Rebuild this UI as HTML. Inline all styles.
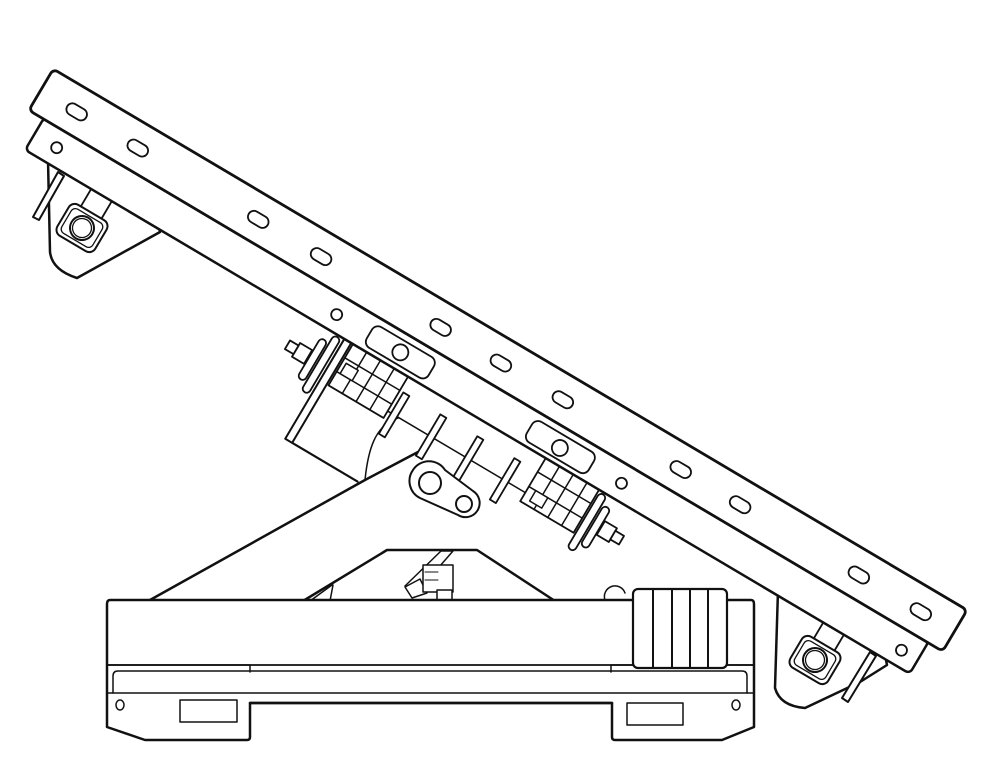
<!DOCTYPE html>
<html><head><meta charset="utf-8"><style>html,body{margin:0;padding:0;background:#fff}svg{display:block}</style></head>
<body>
<svg width="1000" height="771" viewBox="0 0 1000 771" xmlns="http://www.w3.org/2000/svg" fill="#fff" stroke="#111" stroke-linejoin="round" stroke-linecap="round">
<polyline points="150,600 365,480 418,452" fill="none" stroke-width="2.5"/>
<path d="M365,480 C368,450 375,425 398,418" fill="none" stroke-width="1.5"/>
<polygon points="303,601 387,550 477,550 555,601" stroke-width="2.5"/>
<line x1="310" y1="601" x2="332" y2="585" stroke-width="1.5"/>
<line x1="330" y1="601" x2="333" y2="585" stroke-width="1.5"/>
<polygon points="405,586 441,551 453,551 419,590" stroke-width="1.5"/>
<polygon points="405,587 420,579 427,593 412,598" stroke-width="1.5"/>
<rect x="423" y="565" width="30" height="27" stroke-width="1.5"/>
<line x1="425" y1="572" x2="438" y2="572" stroke-width="1"/><line x1="425" y1="580" x2="438" y2="580" stroke-width="1"/>
<rect x="437" y="590" width="15" height="11" stroke-width="1.5"/>
<path d="M48,160 L50,252 Q52,270 77,278 L160,232 L150,180 Z" stroke-width="2.5"/>
<g transform="translate(82,228) rotate(30.6)">
<rect x="-22" y="-18" width="44" height="36" rx="7" stroke-width="2"/>
<rect x="-18" y="-14" width="36" height="28" rx="5" stroke-width="1.3"/>
<circle r="12" stroke-width="2"/><circle r="9.5" stroke-width="1.3"/>
<line x1="-12" y1="-18" x2="-12" y2="-50" stroke-width="1.8"/><line x1="12" y1="-18" x2="12" y2="-50" stroke-width="1.8"/>
</g>
<polygon points="33,217 39,220 64,176 58,172" stroke-width="2"/>
<path d="M778,590 L775,688 Q780,706 805,708 L860,682 L887,665 L880,630 Z" stroke-width="2.5"/>
<g transform="translate(815,660) rotate(30.6)">
<rect x="-22" y="-18" width="44" height="36" rx="7" stroke-width="2"/>
<rect x="-18" y="-14" width="36" height="28" rx="5" stroke-width="1.3"/>
<circle r="12" stroke-width="2"/><circle r="9.5" stroke-width="1.3"/>
<line x1="-12" y1="-18" x2="-12" y2="-50" stroke-width="1.8"/><line x1="12" y1="-18" x2="12" y2="-50" stroke-width="1.8"/>
</g>
<polygon points="842,698 848,702 876,656 870,652" stroke-width="2"/>
<g transform="translate(55,70) rotate(30.63)">
<line x1="395" y1="200" x2="470" y2="200" stroke-width="2.2"/>
<rect x="386" y="84" width="8" height="116" stroke-width="2"/>
<rect x="396" y="84" width="64" height="48" stroke-width="1.8"/>
<line x1="412" y1="84" x2="412" y2="132" stroke-width="1.5"/><line x1="428" y1="84" x2="428" y2="132" stroke-width="1.5"/><line x1="444" y1="84" x2="444" y2="132" stroke-width="1.5"/>
<line x1="396" y1="100" x2="460" y2="100" stroke-width="1.5"/><line x1="396" y1="116" x2="460" y2="116" stroke-width="1.5"/>
<rect x="400" y="104" width="14" height="12" stroke-width="1.5"/>
<rect x="375" y="86" width="8" height="64" rx="4" stroke-width="1.8"/>
<rect x="365" y="95" width="8" height="46" rx="4" stroke-width="1.8"/>
<rect x="350" y="110" width="14" height="16" stroke-width="1.8"/>
<rect x="340" y="113" width="10" height="10" stroke-width="1.8"/>
<line x1="460" y1="124" x2="620" y2="124" stroke-width="1.5"/>
<rect x="464" y="100" width="7" height="48" stroke-width="1.8"/>
<rect x="507" y="100" width="7" height="48" stroke-width="1.8"/>
<rect x="550" y="100" width="7" height="48" stroke-width="1.8"/>
<rect x="593" y="100" width="7" height="48" stroke-width="1.8"/>
<rect x="620" y="84" width="62" height="50" stroke-width="1.8"/>
<line x1="636" y1="84" x2="636" y2="134" stroke-width="1.5"/><line x1="652" y1="84" x2="652" y2="134" stroke-width="1.5"/><line x1="668" y1="84" x2="668" y2="134" stroke-width="1.5"/>
<line x1="620" y1="100" x2="682" y2="100" stroke-width="1.5"/><line x1="620" y1="117" x2="682" y2="117" stroke-width="1.5"/>
<rect x="628" y="117" width="14" height="12" stroke-width="1.5"/>
<rect x="684" y="86" width="8" height="64" rx="4" stroke-width="1.8"/>
<rect x="694" y="95" width="8" height="46" rx="4" stroke-width="1.8"/>
<rect x="703" y="108" width="14" height="16" stroke-width="1.8"/>
<rect x="717" y="111" width="10" height="10" stroke-width="1.8"/>
</g>
<path d="M413,470 A19,19 0 0 1 445,470 L473,491 A13,13 0 0 1 458,515 L420,498 A19,19 0 0 1 413,470 Z" stroke-width="2"/>
<circle cx="430" cy="483" r="11" stroke-width="2"/>
<circle cx="464" cy="504" r="8" stroke-width="2"/>
<g transform="translate(55,70) rotate(30.63)">
<rect x="15" y="46" width="1028" height="38" rx="5" stroke-width="2.5"/>
<rect x="-2" y="0" width="1062" height="48" rx="5" stroke-width="2.8"/>
<line x1="17" y1="48" x2="1041" y2="48" stroke-width="1.8"/>
<g fill="none" stroke-width="1.8">
<rect x="29" y="19" width="22" height="12" rx="6"/>
<rect x="100" y="19" width="22" height="12" rx="6"/>
<rect x="240" y="19" width="22" height="12" rx="6"/>
<rect x="313" y="19" width="22" height="12" rx="6"/>
<rect x="452" y="19" width="22" height="12" rx="6"/>
<rect x="522" y="19" width="22" height="12" rx="6"/>
<rect x="594" y="19" width="22" height="12" rx="6"/>
<rect x="731" y="19" width="22" height="12" rx="6"/>
<rect x="800" y="19" width="22" height="12" rx="6"/>
<rect x="938" y="19" width="22" height="12" rx="6"/>
<rect x="1010" y="19" width="22" height="12" rx="6"/>
<circle cx="41" cy="66" r="5.5"/>
<circle cx="367" cy="67" r="5.5"/>
<circle cx="698" cy="67" r="5.5"/>
<circle cx="1024" cy="68" r="5.5"/>
<rect x="405" y="55" width="72" height="24" rx="7"/>
<circle cx="441" cy="67" r="8"/>
<rect x="591" y="55" width="72" height="24" rx="7"/>
<circle cx="627" cy="68" r="8"/>
</g>
</g>
<path d="M110,600 L751,600 Q754,600 754,604 L754,727 L722,740 L615,740 Q612,740 612,737 L612,703 L250,703 L250,737 Q250,740 247,740 L145,740 L107,727 L107,604 Q107,600 110,600 Z" stroke-width="2.5"/>
<line x1="107" y1="665" x2="754" y2="665" stroke-width="1.8"/>
<line x1="107" y1="693" x2="754" y2="693" stroke-width="1.5"/>
<path d="M113,693 L113,676 Q113,671 118,671 L742,671 Q747,671 747,676 L747,693" fill="none" stroke-width="1.5"/>
<polyline points="107,665 250,665 250,672" fill="none" stroke-width="1.5"/>
<polyline points="754,665 611,665 611,672" fill="none" stroke-width="1.5"/>
<line x1="250" y1="703" x2="612" y2="703" stroke-width="2.5"/>
<rect x="180" y="700" width="57" height="22" stroke-width="1.5"/>
<rect x="627" y="703" width="56" height="22" stroke-width="1.5"/>
<ellipse cx="120" cy="705" rx="4" ry="5" stroke-width="1.5"/>
<ellipse cx="736" cy="705" rx="4" ry="5" stroke-width="1.5"/>
<path d="M605,600 A10,10 0 0 1 625,593" fill="none" stroke-width="1.5"/>
<rect x="633" y="589" width="94" height="79" rx="5" stroke-width="2.2"/>
<line x1="653" y1="589" x2="653" y2="668" stroke-width="2"/>
<line x1="672" y1="589" x2="672" y2="668" stroke-width="2"/>
<line x1="690" y1="589" x2="690" y2="668" stroke-width="2"/>
<line x1="708" y1="589" x2="708" y2="668" stroke-width="2"/>
</svg>
</body></html>
